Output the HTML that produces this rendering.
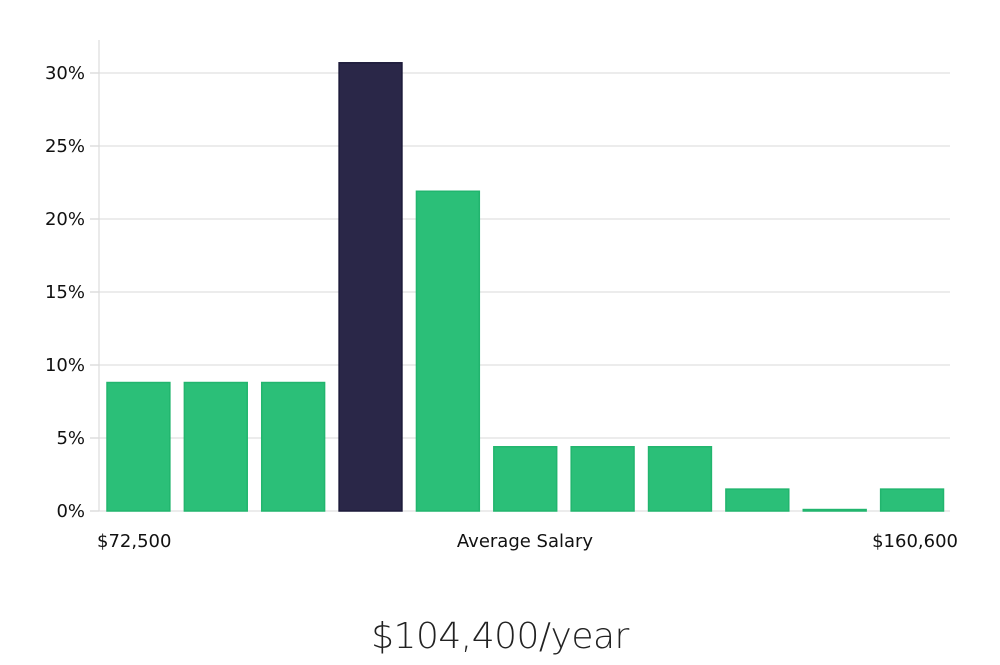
<!DOCTYPE html>
<html><head><meta charset="utf-8"><style>
html,body{margin:0;padding:0;background:#fff;}
svg text{font-family:"DejaVu Sans","Liberation Sans",sans-serif;fill:#111;}
</style></head><body>
<svg width="1000" height="660" viewBox="0 0 1000 660" xmlns="http://www.w3.org/2000/svg">
<g id="grid"></g>
<g id="bars"></g>
<g id="yaxis"></g>
<text x="97" y="547" font-size="18">$72,500</text>
<text x="525" y="547" font-size="18" text-anchor="middle">Average Salary</text>
<text x="958" y="547" font-size="18" text-anchor="end">$160,600</text>
<text x="500" y="648" font-size="36" text-anchor="middle" style="font-weight:300;fill:#222;font-family:'DejaVu Sans','Liberation Sans',sans-serif;letter-spacing:-0.5px">$104,400/year</text>
</svg>
<script>
const categories = ["b1","b2","b3","b4","b5","b6","b7","b8","b9","b10","b11"];
const values = [8.8, 8.8, 8.8, 30.7, 21.9, 4.4, 4.4, 4.4, 1.5, 0.1, 1.5];
const highlightIndex = 3;
const yTicks = [0, 5, 10, 15, 20, 25, 30];
const yTickLabels = ["0%","5%","10%","15%","20%","25%","30%"];

const NS = "http://www.w3.org/2000/svg";
const x0 = 99, x1 = 950, yBase = 511, pxPer = 14.6;
const band = (x1 - x0) / categories.length;
const y = v => yBase - v * pxPer;
const xb = i => x0 + i * band + 8;
function mk(tag, attrs, parent){const e=document.createElementNS(NS,tag);for(const k in attrs)e.setAttribute(k,attrs[k]);parent.appendChild(e);return e;}
const grid = document.getElementById('grid'), bars = document.getElementById('bars'), yaxis = document.getElementById('yaxis');
yTicks.forEach((t,i)=>{
  const l = mk('line',{x1:x0,x2:x1,y1:y(t),y2:y(t),stroke:'#e0e0e0','stroke-width':1.2},grid);
  
  
  const tk = mk('line',{x1:x0-9,x2:x0,y1:y(t),y2:y(t),stroke:'#ccc','stroke-width':1},yaxis);
  
  
  const tx = mk('text',{x:x0-14,y:y(t)+6,'font-size':18,'text-anchor':'end'},yaxis);
  tx.textContent = yTickLabels[i];
  
  
});
const ax = mk('line',{x1:x0,x2:x0,y1:40,y2:yBase,stroke:'#ddd','stroke-width':1.2},yaxis);


values.forEach((v,i)=>{
  const hi = i===highlightIndex;
  const r = mk('rect',{x:xb(i),y:y(v),width:band-14.5,height:Math.max(v*pxPer,1),
    fill:hi?'#2a2748':'#2bbf78',stroke:hi?'#1c1a3a':'#22b56e','stroke-width':1.5},bars);
  
  
});
</script>
</body></html>
